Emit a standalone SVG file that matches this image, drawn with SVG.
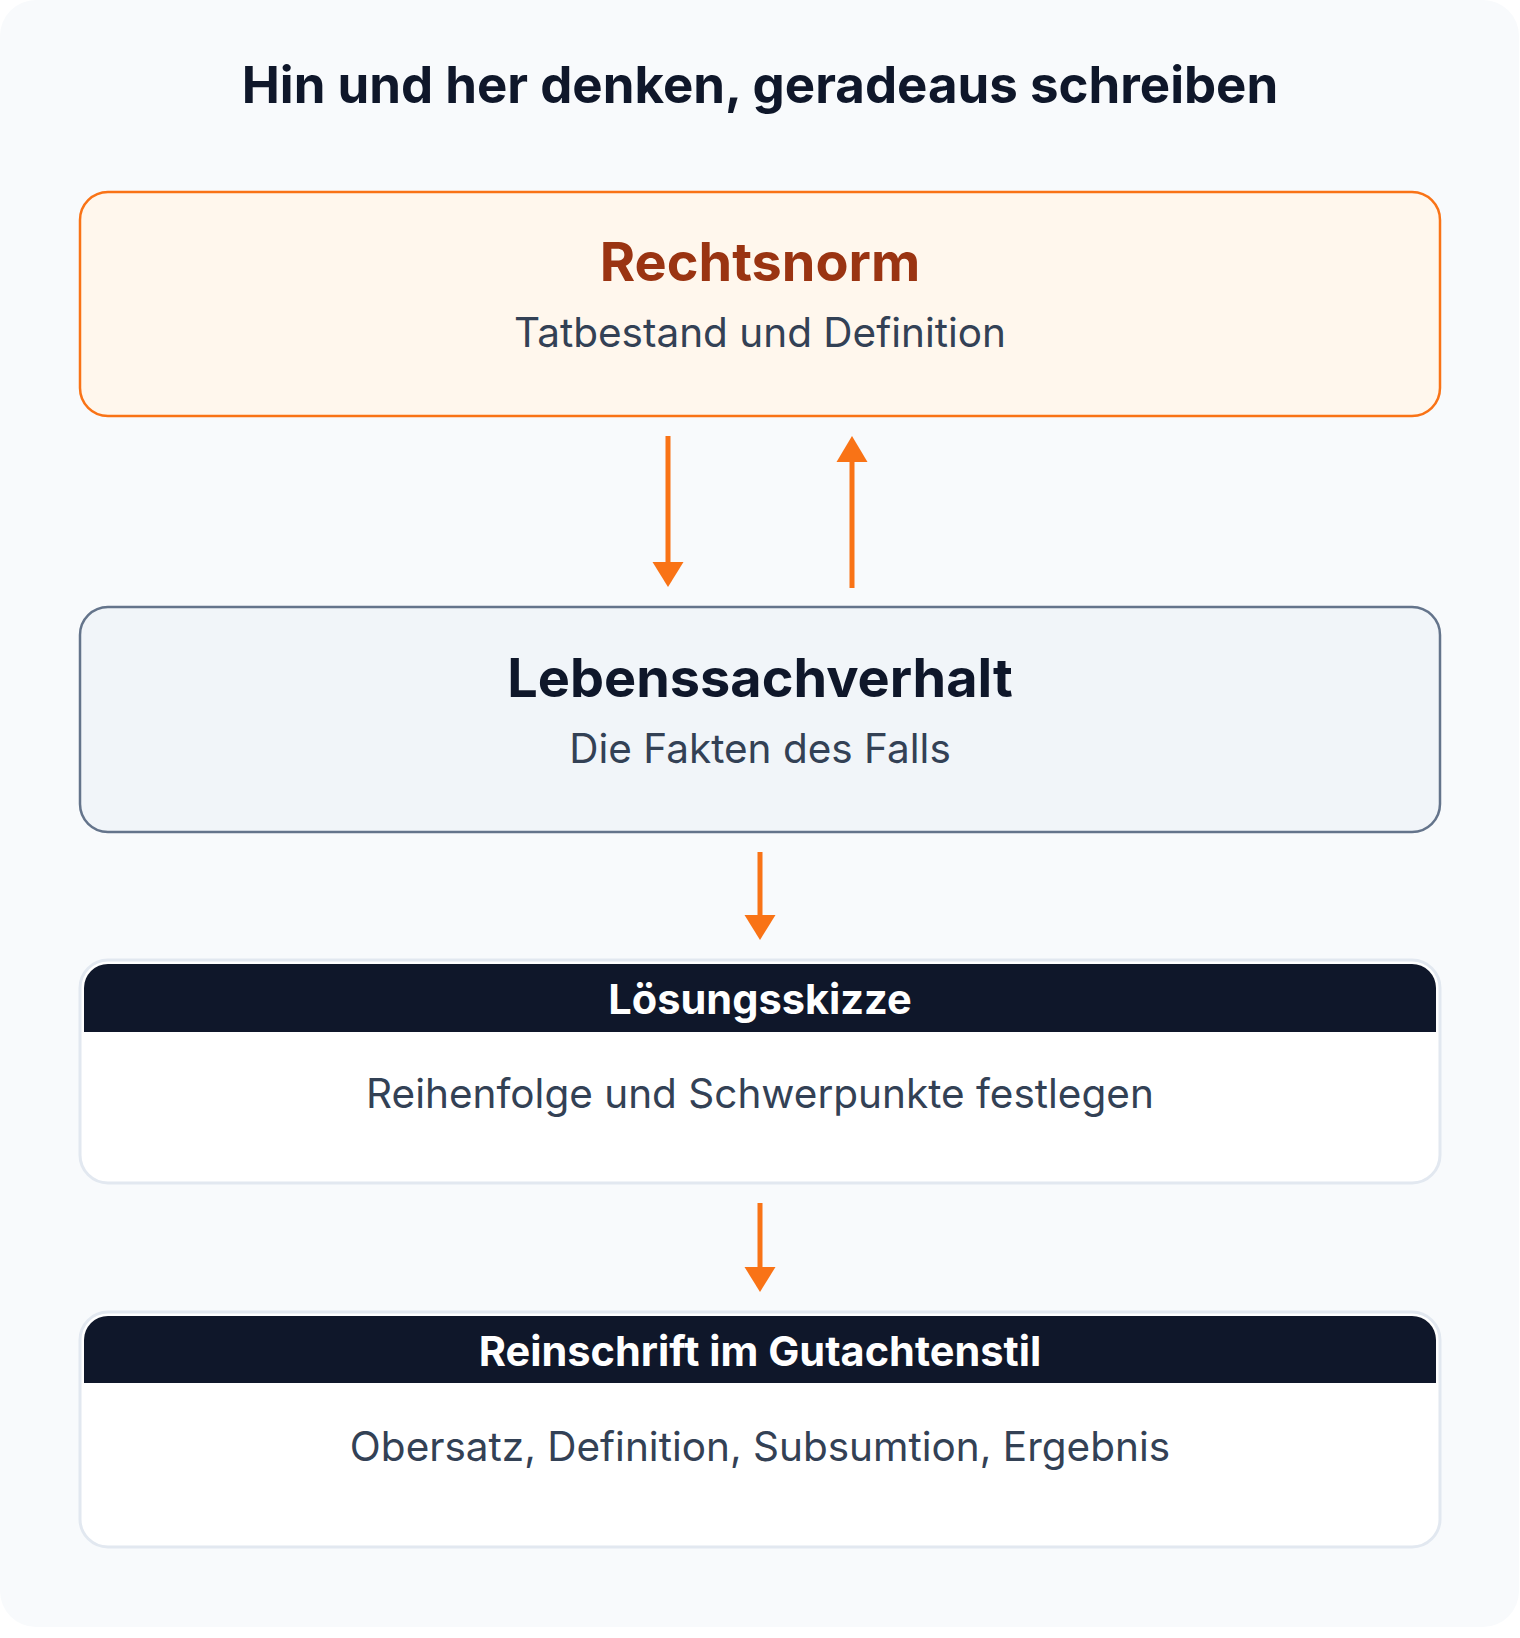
<svg xmlns="http://www.w3.org/2000/svg" width="1520" height="1638" viewBox="0 0 1520 1638">
  <defs>
    <style>
      .t { font-family: Inter, "Noto Sans", "Liberation Sans", sans-serif; text-anchor: middle; }
      .title { font-size: 51px; font-weight: 700; fill: #0f172a; }
      .name { font-size: 54px; font-weight: 700; }
      .sub { font-size: 40.5px; font-weight: 400; fill: #334155; }
      .hdr { font-size: 41.5px; font-weight: 700; fill: #ffffff; }
      .conn { stroke: #f97316; stroke-width: 5; fill: none; }
      .head { fill: #f97316; }
      .card { fill: #ffffff; stroke: #e2e8f0; stroke-width: 3; }
      .band { fill: #0f172a; }
    </style>
  </defs>
  <rect x="0" y="0" width="1520" height="1638" fill="#ffffff"/>
  <rect x="0" y="0" width="1519" height="1627" rx="36" fill="#f8fafc"/>
  <text class="t title" x="760" y="103">Hin und her denken, geradeaus schreiben</text>

  <g id="rechtsnorm">
    <rect x="80" y="192" width="1360" height="224" rx="28" fill="#fff7ed" stroke="#f97316" stroke-width="2.5"/>
    <text class="t name" x="760" y="281" fill="#9a3412">Rechtsnorm</text>
    <text class="t sub" x="760" y="347">Tatbestand und Definition</text>
  </g>

  <g id="lebenssachverhalt">
    <rect x="80" y="607" width="1360" height="225" rx="28" fill="#f1f5f9" stroke="#64748b" stroke-width="2.5"/>
    <text class="t name" x="760" y="697" fill="#0f172a">Lebenssachverhalt</text>
    <text class="t sub" x="760" y="763">Die Fakten des Falls</text>
  </g>

  <g id="loesungsskizze">
    <rect class="card" x="80" y="960" width="1360" height="223" rx="28"/>
    <path class="band" d="M84,1032 V988 A24,24 0 0 1 108,964 H1412 A24,24 0 0 1 1436,988 V1032 Z"/>
    <text class="t hdr" x="760" y="1014">Lösungsskizze</text>
    <text class="t sub" x="760" y="1108">Reihenfolge und Schwerpunkte festlegen</text>
  </g>

  <g id="reinschrift">
    <rect class="card" x="80" y="1312" width="1360" height="235" rx="28"/>
    <path class="band" d="M84,1383 V1340 A24,24 0 0 1 108,1316 H1412 A24,24 0 0 1 1436,1340 V1383 Z"/>
    <text class="t hdr" x="760" y="1366">Reinschrift im Gutachtenstil</text>
    <text class="t sub" x="760" y="1461">Obersatz, Definition, Subsumtion, Ergebnis</text>
  </g>

  <g id="connectors">
    <line class="conn" x1="668" y1="436" x2="668" y2="564"/>
    <path class="head" d="M652.5,562 H683.5 L668,587 Z"/>
    <line class="conn" x1="852" y1="588" x2="852" y2="460"/>
    <path class="head" d="M836.5,462 H867.5 L852,436 Z"/>
    <line class="conn" x1="760" y1="852" x2="760" y2="917"/>
    <path class="head" d="M744.5,915 H775.5 L760,940 Z"/>
    <line class="conn" x1="760" y1="1203" x2="760" y2="1269"/>
    <path class="head" d="M744.5,1267 H775.5 L760,1292 Z"/>
  </g>
</svg>
